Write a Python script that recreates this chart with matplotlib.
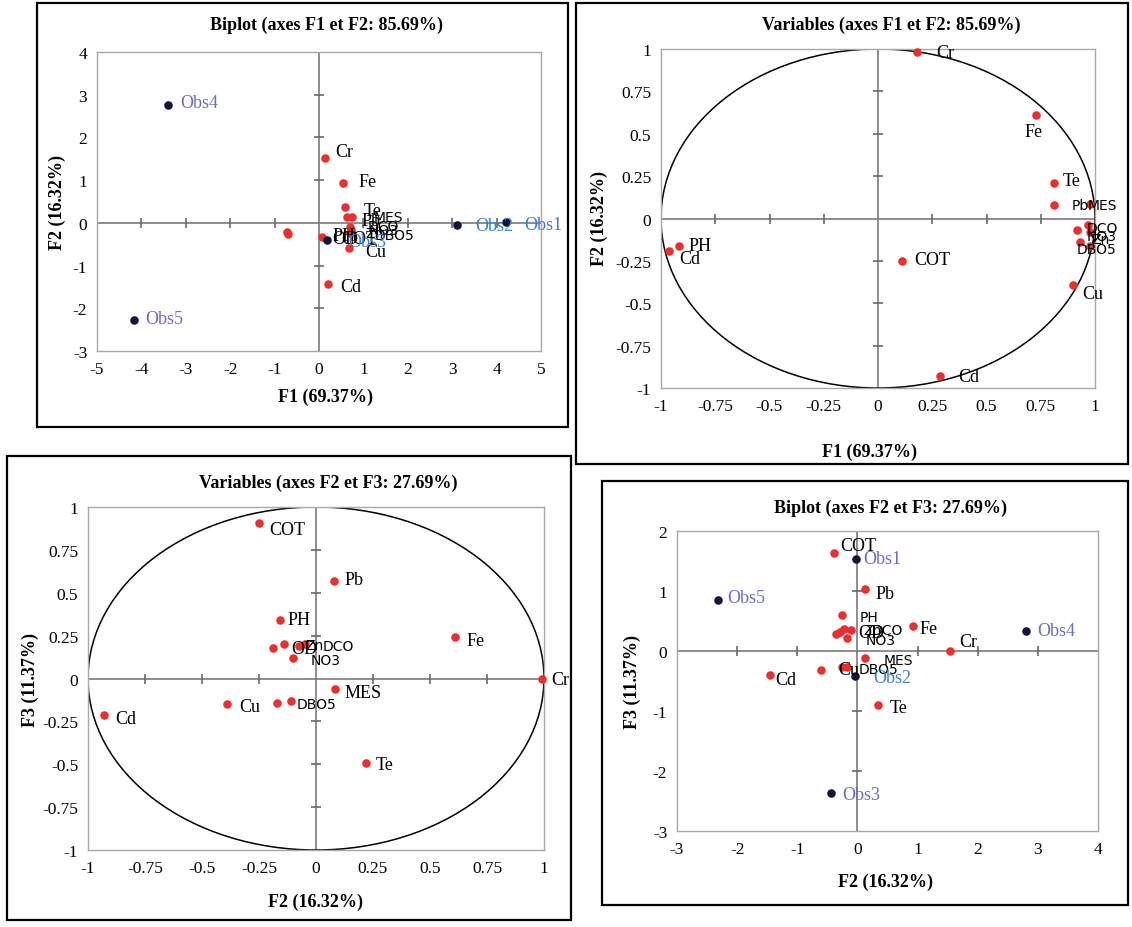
import numpy as np
import matplotlib
matplotlib.use("Agg")
from matplotlib import pyplot as plt
from matplotlib.patches import Circle, Rectangle

plt.rcParams['font.family'] = ['Liberation Serif', 'DejaVu Serif']
plt.rcParams['axes.unicode_minus'] = False

# ---- data ----
# Biplot F1/F2
b12_vars = ['Cr', 'Fe', 'Te', 'Pb', 'MES', 'DCO', 'NO3', 'Zn', 'DBO5', 'Cu', 'Cd', 'PH', 'OD', 'COT']
b12_x = [0.13, 0.55, 0.58, 0.63, 0.75, 0.69, 0.73, 0.72, 0.70, 0.67, 0.21, -0.72, -0.70, 0.07]
b12_y = [1.51, 0.94, 0.37, 0.13, 0.13, -0.09, -0.16, -0.20, -0.24, -0.59, -1.42, -0.22, -0.25, -0.33]
b12_obs = ['Obs1', 'Obs2', 'Obs3', 'Obs4', 'Obs5']
b12_obs_x = [4.22, 3.11, 0.19, -3.39, -4.17]
b12_obs_y = [0.02, -0.06, -0.41, 2.76, -2.28]

# Variables F1/F2
v12_vars = ['Cr', 'Fe', 'Te', 'Pb', 'MES', 'DCO', 'NO3', 'Zn', '', 'DBO5', 'Cu', 'COT', 'PH', 'Cd', 'Cd']
v12_x = [0.18, 0.73, 0.81, 0.81, 0.975, 0.97, 0.915, 0.975, 0.933, 0.975, 0.897, 0.11, -0.915, -0.963, 0.285]
v12_y = [0.985, 0.61, 0.21, 0.08, 0.086, -0.04, -0.067, -0.08, -0.14, -0.163, -0.395, -0.25, -0.165, -0.189, -0.93]

# Variables F2/F3
v23_vars = ['COT', 'Pb', 'PH', 'Fe', 'OD', 'Zn', '', 'DCO', 'NO3', 'Cr', 'MES', 'Cu', '', 'DBO5', 'Cd', 'Te']
v23_x = [-0.25, 0.08, -0.16, 0.61, -0.19, -0.14, -0.075, -0.05, -0.10, 0.99, 0.084, -0.39, -0.17, -0.11, -0.93, 0.22]
v23_y = [0.905, 0.57, 0.34, 0.24, 0.18, 0.20, 0.19, 0.20, 0.12, 0.0, -0.06, -0.15, -0.14, -0.13, -0.21, -0.49]

# Biplot F2/F3
b23_vars = ['COT', 'Pb', 'PH', 'Fe', '', 'Zn', 'DCO', 'NO3', 'OD', 'Cr', 'MES', 'Cu', '', 'DBO5', 'Cd', 'Te']
b23_x = [-0.39, 0.13, -0.25, 0.92, -0.35, -0.23, -0.11, -0.17, -0.29, 1.54, 0.12, -0.60, -0.26, -0.17, -1.46, 0.34]
b23_y = [1.64, 1.04, 0.60, 0.42, 0.29, 0.37, 0.35, 0.21, 0.32, 0.0, -0.11, -0.31, -0.26, -0.26, -0.40, -0.90]
b23_obs = ['Obs1', 'Obs2', 'Obs3', 'Obs4', 'Obs5']
b23_obs_x = [-0.02, -0.04, -0.44, 2.81, -2.31]
b23_obs_y = [1.53, -0.42, -2.36, 0.34, 0.85]

# ---- styling ----
RED = '#e8312f'
NAVY = '#151538'
PURPLE = '#6c6cc2'
BLUE = '#3d7fc9'
W, H = 1132, 928

# label offsets in pixels (dx right, dy up); default is (10, 0)
off_b12 = {'Cr': (10, 7), 'Fe': (15, 1), 'Te': (19, -3), 'Pb': (15, -3), 'MES': (21, 0),
           'DCO': (18, 1), 'NO3': (17, 0), 'Zn': (14, -2), 'DBO5': (25, -2), 'Cu': (17, -3),
           'Cd': (12, -3), 'PH': (45, -3), 'OD': (44, -5), 'COT': (19, -2),
           'Obs1': (18, -2), 'Obs2': (18, 0), 'Obs3': (21, -1), 'Obs4': (12, 2), 'Obs5': (11, 2)}
off_v12 = [(19, -1), (-12, -16), (9, 2), (18, 0), (-2, -1), (-2, -3), (10, -6), (2, -7), (0, 0),
           (-13, -3), (10, -8), (12, 1), (9, 1), (10, -8), (18, 0)]
off_v23 = [(10, -6), (10, 1), (8, 1), (11, -3), (19, -1), (21, -1), (0, 0), (18, -2), (17, -2),
           (10, -1), (9, -4), (12, -2), (0, 0), (6, -3), (11, -4), (10, -2)]
off_b23 = [(6, 7), (10, -5), (17, -2), (7, -3), (0, 0), (20, -1), (21, 0), (18, -2), (18, -1),
           (9, 9), (19, -2), (17, 0), (0, 0), (11, -2), (6, -5), (12, -3)]
off_b23_obs = [(7, 1), (18, -1), (11, -2), (11, 0), (9, 2)]
obs_col_b12 = [BLUE, BLUE, BLUE, PURPLE, PURPLE]
obs_col_b23 = [PURPLE, BLUE, PURPLE, PURPLE, PURPLE]

sans_b12 = {'MES', 'DCO', 'NO3', 'Zn', 'DBO5'}
sans_v12 = {'Pb', 'MES', 'DCO', 'NO3', 'Zn', 'DBO5'}
sans_v23 = {'DCO', 'NO3', 'Zn', 'DBO5'}
sans_b23 = {'PH', 'DCO', 'NO3', 'MES', 'Zn', 'DBO5'}


def frac(px_left, px_top, px_right, px_bottom):
    return [px_left / W, 1 - px_bottom / H, (px_right - px_left) / W, (px_bottom - px_top) / H]


def setupAxes(ax, xlim, ylim, xticks, yticks, circle):
    ax.set_xlim(xlim)
    ax.set_ylim(ylim)
    for s in ax.spines.values():
        s.set_color('#a8a8a8')
        s.set_linewidth(1.0)
    ax.set_xticks(xticks)
    ax.set_yticks(yticks)
    ax.set_xticklabels([f"{v:g}" for v in xticks])
    ax.set_yticklabels([f"{v:g}" for v in yticks])
    ax.tick_params(length=0, labelsize=12.5, pad=7)
    ax.axhline(0, color='#7a7a7a', lw=1.2, zorder=1)
    ax.axvline(0, color='#7a7a7a', lw=1.2, zorder=1)
    inner_x = [t for t in xticks[1:-1] if t != 0]
    inner_y = [t for t in yticks[1:-1] if t != 0]
    ax.plot(inner_x, [0] * len(inner_x), ls='none', marker='|', ms=7, mew=1.2, color='#6a6a6a', zorder=1)
    ax.plot([0] * len(inner_y), inner_y, ls='none', marker='_', ms=7, mew=1.2, color='#6a6a6a', zorder=1)
    if circle:
        ax.add_patch(Circle((0, 0), 1, fill=False, ec='black', lw=1.1, zorder=2))


def label(ax, txt, x, y, off, color='black', sans=False):
    if not txt:
        return
    fam = ['DejaVu Sans'] if sans else ['Liberation Serif']
    ax.annotate(txt, (x, y), xytext=(off[0] * 0.72, off[1] * 0.72), textcoords='offset points',
                ha='left', va='center', fontsize=10 if sans else 13, family=fam,
                color=color, annotation_clip=False, zorder=5)


def dots(ax, x, y, color):
    ax.scatter(x, y, s=38, color=color, zorder=4, clip_on=False, linewidths=0)


fig = plt.figure(figsize=(W / 100, H / 100), dpi=100)

# panel boxes
for (l, t, r, b) in [(37, 4, 568, 428), (576, 4, 1128, 465), (7, 457, 571, 921), (602, 482, 1128, 906)]:
    fig.add_artist(Rectangle((l / W, 1 - b / H), (r - l) / W, (b - t) / H, transform=fig.transFigure,
                             fill=False, ec='black', lw=1.6))

# titles and axis labels
texts = [
    (327, 25, 'Biplot (axes F1 et F2: 85.69%)', 0), (891, 25, 'Variables (axes F1 et F2: 85.69%)', 0),
    (328, 483, 'Variables (axes F2 et F3: 27.69%)', 0), (891, 508, 'Biplot (axes F2 et F3: 27.69%)', 0),
    (325, 397, 'F1 (69.37%)', 0), (869, 452, 'F1 (69.37%)', 0),
    (315, 902, 'F2 (16.32%)', 0), (886, 882, 'F2 (16.32%)', 0),
    (57, 202, 'F2 (16.32%)', 90), (599, 218, 'F2 (16.32%)', 90),
    (30, 680, 'F3 (11.37%)', 90), (632, 682, 'F3 (11.37%)', 90),
]
for (px, py, s, rot) in texts:
    fig.text(px / W, 1 - py / H, s, ha='center', va='center', rotation=rot,
             fontsize=13, fontweight='bold')

# Panel 1: Biplot F1/F2
ax1 = fig.add_axes(frac(97, 53, 541, 352))
setupAxes(ax1, (-5, 5), (-3, 4), list(range(-5, 6)), list(range(-3, 5)), False)
dots(ax1, b12_x, b12_y, RED)
for n, x, y in zip(b12_vars, b12_x, b12_y):
    label(ax1, n, x, y, off_b12.get(n, (10, 0)), sans=n in sans_b12)
dots(ax1, b12_obs_x, b12_obs_y, NAVY)
for n, x, y, c in zip(b12_obs, b12_obs_x, b12_obs_y, obs_col_b12):
    label(ax1, n, x, y, off_b12[n], color=c)

# Panel 2: Variables F1/F2
ax2 = fig.add_axes(frac(661, 50, 1095, 389))
ticks = [-1, -0.75, -0.5, -0.25, 0, 0.25, 0.5, 0.75, 1]
setupAxes(ax2, (-1, 1), (-1, 1), ticks, ticks, True)
dots(ax2, v12_x, v12_y, RED)
for n, x, y, o in zip(v12_vars, v12_x, v12_y, off_v12):
    label(ax2, n, x, y, o, sans=n in sans_v12)

# Panel 3: Variables F2/F3
ax3 = fig.add_axes(frac(88, 508, 544, 851))
setupAxes(ax3, (-1, 1), (-1, 1), ticks, ticks, True)
dots(ax3, v23_x, v23_y, RED)
for n, x, y, o in zip(v23_vars, v23_x, v23_y, off_v23):
    label(ax3, n, x, y, o, sans=n in sans_v23)

# Panel 4: Biplot F2/F3
ax4 = fig.add_axes(frac(677, 532, 1098, 832))
setupAxes(ax4, (-3, 4), (-3, 2), list(range(-3, 5)), list(range(-3, 3)), False)
dots(ax4, b23_x, b23_y, RED)
for n, x, y, o in zip(b23_vars, b23_x, b23_y, off_b23):
    label(ax4, n, x, y, o, sans=n in sans_b23)
dots(ax4, b23_obs_x, b23_obs_y, NAVY)
for n, x, y, o, c in zip(b23_obs, b23_obs_x, b23_obs_y, off_b23_obs, obs_col_b23):
    label(ax4, n, x, y, o, color=c)

fig.savefig('out.png', dpi=100)
